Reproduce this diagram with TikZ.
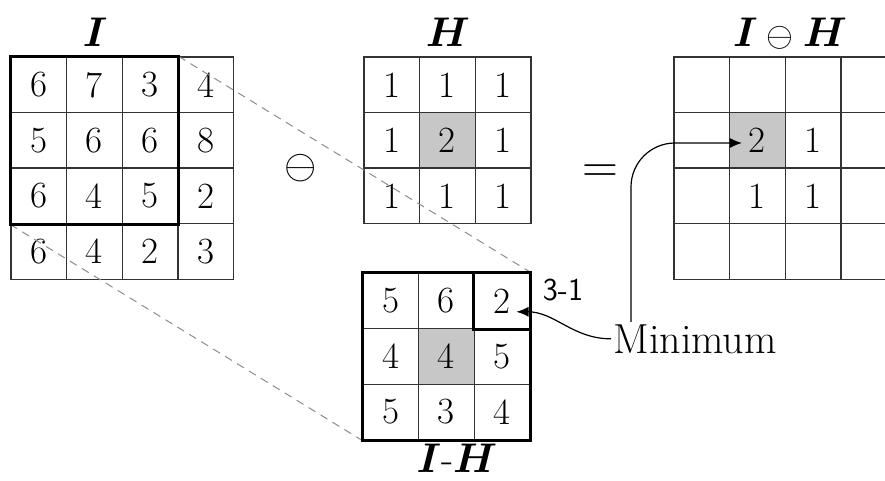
\documentclass[tikz,border=0pt]{standalone}
\usepackage{amsmath}
\usepackage{bm}
\usetikzlibrary{arrows.meta}

\begin{document}
\begin{tikzpicture}
  [x=0.5pt,y=-0.5pt,
   cell/.style={draw=black!80,line width=0.7pt,minimum size=27.8pt,inner sep=0pt,font=\fontsize{18.5}{18.5}\selectfont},
   shaded/.style={fill=black!22},
   bold box/.style={draw=black,line width=1.6pt},
   guide/.style={draw=black!45,line width=0.5pt,dash pattern=on 4pt off 3pt},
   title/.style={anchor=base,font=\fontsize{22}{22}\selectfont},
   pointer/.style={draw=black,line width=0.6pt,-{Latex[length=6pt,width=5pt]}}]
  \clip (0,0) rectangle (885,481);

  % image I
  \foreach \row [count=\r] in {{6,7,3,4},{5,6,6,8},{6,4,5,2},{6,4,2,3}}
    \foreach \v [count=\c] in \row
      \node[cell] (i\r\c) at ({11+55.6*(\c-0.5)},{57+55.6*(\r-0.5)}) {\v};

  % structuring element H
  \foreach \row [count=\r] in {{1,1,1},{1,2,1},{1,1,1}}
    \foreach \v [count=\c] in \row {
      \ifnum\r\c=22 \def\s{shaded}\else\def\s{}\fi
      \node[cell,\s] (h\r\c) at ({364+55.6*(\c-0.5)},{57+55.6*(\r-0.5)}) {\v};
    }

  % result
  \foreach \row [count=\r] in {{{},{},{},{}},{{},2,1,{}},{{},1,1,{}},{{},{},{},{}}}
    \foreach \v [count=\c] in \row {
      \ifnum\r\c=22 \def\s{shaded}\else\def\s{}\fi
      \node[cell,\s] (o\r\c) at ({674+55.6*(\c-0.5)},{57+55.6*(\r-0.5)}) {\v};
    }

  % difference I-H
  \foreach \row [count=\r] in {{5,6,2},{4,4,5},{5,3,4}}
    \foreach \v [count=\c] in \row {
      \ifnum\r\c=22 \def\s{shaded}\else\def\s{}\fi
      \node[cell,\s] (d\r\c) at ({363+55.6*(\c-0.5)},{273+55.6*(\r-0.5)}) {\v};
    }

  \draw[guide] (i13.north east) -- (d13.north east);
  \draw[guide] (i31.south west) -- (d31.south west);

  \draw[bold box] (i11.north west) rectangle (i33.south east);
  \draw[bold box] (d11.north west) rectangle (d33.south east);
  \draw[bold box] (d13.north west) rectangle (d13.south east);

  \node[title] (ti) at (95,47) {$\bm{I}$};
  \node[title] (th) at (448,47) {$\bm{H}$};
  \node[title] (to) at (790,47) {$\bm{I}\mathbin{\text{\fontsize{16}{16}\selectfont$\ominus$}}\bm{H}$};
  \node[title,inner sep=0pt,font=\fontsize{20}{20}\selectfont] (td) at (457,473) {$\bm{I}$-$\bm{H}$};

  \node (op) at (301,168) {\fontsize{22}{22}\selectfont$\ominus$};
  \node (eq) at (600,174) {\fontsize{35}{35}\selectfont$=$};

  \node[font=\sffamily\fontsize{16}{16}\selectfont] (pos) at (563,290) {3-1};
  \node[anchor=base west,inner sep=1pt,font=\fontsize{21}{21}\selectfont] (min) at (611,353) {Minimum};

  \draw[pointer] (min.west) to[out=180,in=0] ([xshift=-7pt,yshift=-5.5pt]d13.east);
  \draw[pointer,rounded corners=22pt] ([xshift=10pt]min.north west) |- ([xshift=-7.75pt,yshift=-1.3pt]o22.center);
\end{tikzpicture}
\end{document}
